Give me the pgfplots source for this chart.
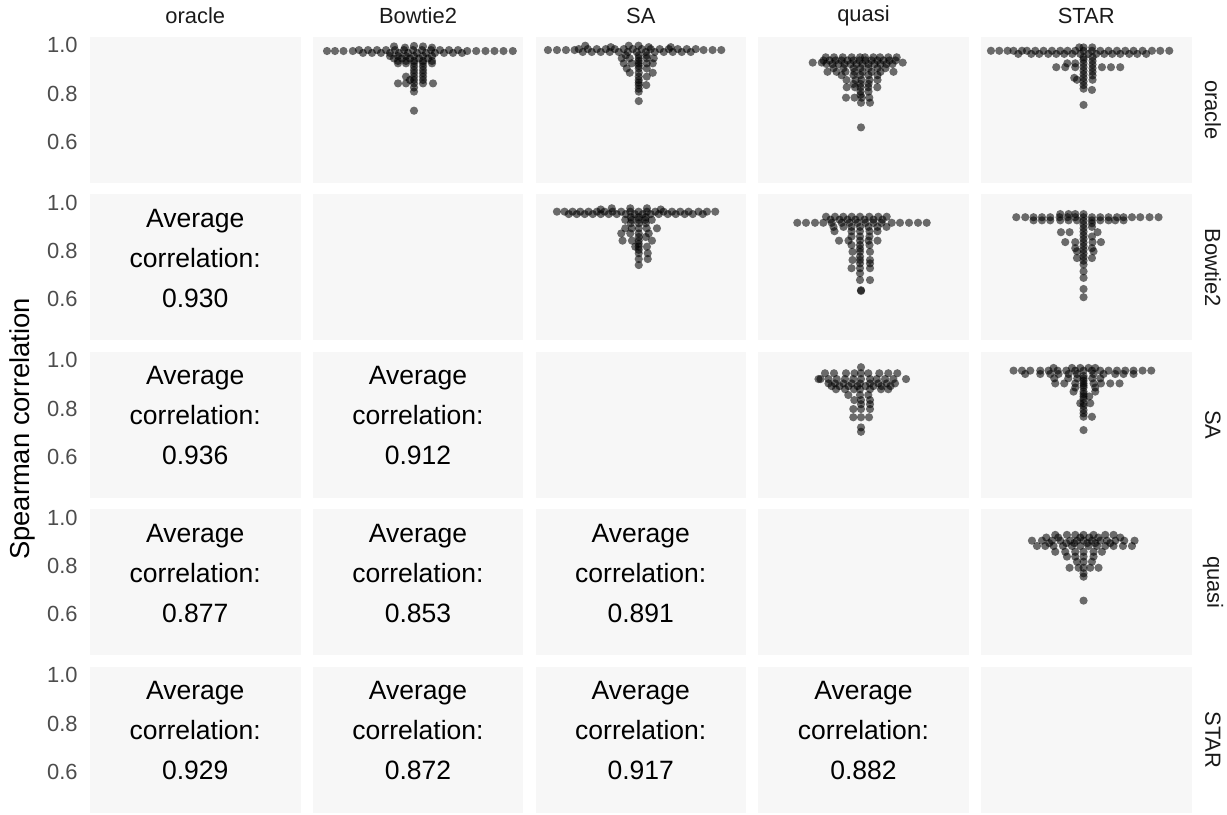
\documentclass[border=0pt]{standalone}
\usepackage{pgfplots}
\pgfplotsset{compat=1.18}
\usepackage{fontspec}
\setmainfont{Liberation Sans}
\definecolor{panelbg}{HTML}{F7F7F7}
\definecolor{tickgray}{HTML}{4D4D4D}
\definecolor{stripgray}{HTML}{1A1A1A}
\pgfplotsset{
 panel/.style={width=105.25bp,height=73bp,scale only axis,
   xmin=-105.25,xmax=105.25,ymin=0.430,ymax=1.034,
   axis background/.style={fill=panelbg},
   axis line style={draw=none},
   xtick=\empty,ytick=\empty,major tick length=0pt,
   anchor=north west},
 leftcol/.style={ytick={0.6,0.8,1.0},yticklabels={0.6,0.8,1.0},
   yticklabel style={font=\fontsize{11}{12}\selectfont,text=tickgray,inner sep=0pt,xshift=-6bp}},
 swarm/.style={only marks,mark=*,mark size=2.05bp,mark options={draw opacity=0,fill=black,fill opacity=0.57}},
}
\newcommand{\avg}[1]{\node[align=center,font=\fontsize{13.3}{20}\selectfont] at (rel axis cs:0.5,0.563) {Average\\correlation:\\#1};}
\begin{document}
\begin{tikzpicture}
\useasboundingbox (0,0) rectangle (613.5bp,407.5bp);
% ---------- row 1 ----------
\begin{axis}[panel,leftcol,at={(45bp,389bp)}]
\end{axis}
\begin{axis}[panel,at={(156.375bp,389bp)}]
\addplot[swarm] coordinates {
(-91,0.976)(-83,0.976)(-74.5,0.976)(-65.2,0.976)(49.2,0.976)(58.2,0.976)(67.5,0.976)(76.5,0.976)(85.5,0.976)(94.8,0.976)
(-59,0.980)(-50,0.980)(-41,0.980)(-32,0.980)(-23,0.980)(-14,0.980)(-5,0.980)(4,0.980)(13,0.980)(22,0.980)(31,0.980)(40,0.980)
(-55,0.968)(-46,0.968)(-37,0.968)(-28,0.968)(-19,0.968)(-10,0.968)(-1,0.968)(8,0.968)(17,0.968)(26,0.968)(35,0.968)(44,0.968)
(-24,0.995)(-4,0.997)(5,0.995)(-13,0.990)(14,0.990)
(-28,0.955)(-20,0.955)(-12,0.955)(-4,0.955)(5,0.955)(14,0.955)
(-24,0.945)(-16,0.945)(-8,0.945)(1,0.945)(10,0.945)
(-20,0.935)(-12,0.935)(-4,0.935)(5,0.935)(14,0.935)
(-20,0.925)(-12,0.925)(-4,0.925)(5,0.925)(14,0.925)
(-4,0.912)(5,0.912)(-4,0.897)(5,0.897)(-4,0.884)(5,0.884)
(-12,0.870)(-4,0.870)(5,0.870)(-8,0.856)(-4,0.856)(5,0.856)
(-20,0.842)(-12,0.842)(-4,0.842)(5,0.842)(15,0.842)
(-4,0.825)(-4,0.808)(-4,0.729)
};
\end{axis}
\begin{axis}[panel,at={(267.75bp,389bp)}]
\addplot[swarm] coordinates {
(-92.8,0.980)(-83.8,0.980)(-74.8,0.980)(-66.2,0.980)(62.8,0.980)(71.8,0.980)(80.5,0.980)
(-62,0.984)(-53,0.984)(-44,0.984)(-35,0.984)(-26,0.984)(-17,0.984)(-8,0.984)(1,0.984)(10,0.984)(19,0.984)(28,0.984)(37,0.984)(46,0.984)(55,0.984)
(-58,0.972)(-49,0.972)(-40,0.972)(-31,0.972)(-22,0.972)(-13,0.972)(-4,0.972)(5,0.972)(14,0.972)(23,0.972)(32,0.972)(41,0.972)(50,0.972)
(-55.5,0.998)(-12,0.998)(-2.2,0.998)(-30,0.992)(8,0.992)(30,0.992)
(-19,0.946)(-11,0.946)(-2,0.946)(6,0.946)(13,0.946)
(-15,0.958)(-2,0.958)(6,0.958)
(-17,0.925)(-9,0.925)(-2,0.925)(6,0.925)(12,0.925)
(-2,0.935)(-14,0.904)(-2,0.904)(6,0.904)(-2,0.915)
(-11,0.886)(-2,0.886)(12,0.886)(-2,0.870)(6,0.870)
(-2,0.856)(-2,0.845)(-2,0.835)(5.5,0.835)(-2,0.820)(-2,0.808)(-2,0.769)
};
\end{axis}
\begin{axis}[panel,at={(379.125bp,389bp)}]
\addplot[swarm] coordinates {
(-37.8,0.950)(-29.5,0.950)(-20.8,0.950)(-11.8,0.950)(-3.5,0.950)(1.5,0.950)(9.8,0.950)(16.5,0.950)(24.8,0.950)(33.2,0.950)
(-50.8,0.928)(-41.8,0.928)(39.2,0.928)
(-40,0.937)(-34,0.937)(-28,0.937)(-22,0.937)(-16,0.937)(-10,0.937)(-4,0.937)(2,0.937)(8,0.937)(14,0.937)(20,0.937)(26,0.937)(32,0.937)
(-37,0.922)(-31,0.922)(-25,0.922)(-19,0.922)(-13,0.922)(-7,0.922)(-1,0.922)(5,0.922)(11,0.922)(17,0.922)(23,0.922)(29,0.922)
(-30,0.905)(-20,0.905)(-10,0.905)(-3,0.905)(5,0.905)(14,0.905)(22,0.905)
(-36,0.890)(-27,0.890)(-18,0.890)(-9,0.890)(-1,0.890)(8,0.890)(17,0.890)(30,0.890)
(-22,0.876)(-10,0.876)(-3,0.876)(5,0.876)(14,0.876)
(-17,0.856)(-8,0.856)(-2,0.856)(6,0.856)(14,0.856)
(-10,0.840)(-3,0.840)(5,0.840)
(-16.8,0.826)(-8.5,0.826)(-3,0.826)(4.8,0.826)(13.8,0.826)
(-3,0.808)(5,0.808)(-3,0.795)
(-17.5,0.783)(-9,0.783)(-1.8,0.783)(5.8,0.783)
(-2.5,0.762)(6.5,0.762)(-2.5,0.660)
};
\end{axis}
\begin{axis}[panel,at={(490.5bp,389bp)}]
\addplot[swarm] coordinates {
(-95.3,0.977)(-87,0.977)(-78.7,0.977)(-72.7,0.977)(-64.3,0.977)(-59.3,0.977)(-51,0.977)(-42.7,0.977)(-34.3,0.977)(-26,0.977)(-18.7,0.977)(-11,0.977)(-2.7,0.977)(5.7,0.977)(14,0.977)(22.3,0.977)(30.7,0.977)(39,0.977)(47.3,0.977)(56.3,0.977)(65.7,0.977)(74,0.977)(83,0.977)
(-68,0.964)(-55,0.964)(-47,0.964)(-38,0.964)(-30,0.964)(-22,0.964)(-14,0.964)(-6,0.964)(2,0.964)(10,0.964)(18,0.964)(26,0.964)(34,0.964)(43,0.964)(51,0.964)(60,0.964)
(-7,0.991)(-2.7,0.991)(6,0.991)
(-2.7,0.95)(-2.7,0.94)(-2.7,0.925)(-2.7,0.91)(-2.7,0.895)(-2.7,0.88)(-2.7,0.865)(-2.7,0.85)(-2.7,0.835)(-2.7,0.82)
(6.3,0.95)(6.3,0.935)(6.3,0.92)(6.3,0.905)(6.3,0.89)(6.3,0.875)
(-30,0.909)(-21,0.909)(-11,0.909)(15.7,0.909)(24.7,0.909)(34,0.909)
(-19,0.925)(-11,0.925)(-9.3,0.857)(6.3,0.857)(-12,0.865)(5.7,0.815)(-2.7,0.753)
};
\end{axis}
% ---------- row 2 ----------
\begin{axis}[panel,leftcol,at={(45bp,310.25bp)}]
\avg{0.930}
\end{axis}
\begin{axis}[panel,at={(156.375bp,310.25bp)}]
\end{axis}
\begin{axis}[panel,at={(267.75bp,310.25bp)}]
\addplot[swarm] coordinates {
(-83.8,0.963)(-76.2,0.963)(-68.2,0.963)(-60.5,0.963)(-52.2,0.963)(-43.8,0.963)(-36.2,0.963)(-28.2,0.963)(-19.5,0.963)(-10.5,0.963)(-2.2,0.963)(6.2,0.963)(14.5,0.963)(22.8,0.963)(31.2,0.963)(39.5,0.963)(47.8,0.963)(57.8,0.963)(66.2,0.963)(74.5,0.963)
(-72,0.953)(-64,0.953)(-56,0.953)(-48,0.953)(-40,0.953)(-32,0.953)(-24,0.953)(-15,0.953)(-6,0.953)(2,0.953)(10,0.953)(18,0.953)(27,0.953)(35,0.953)(44,0.953)(52,0.953)(62,0.953)
(-29,0.977)(-10.5,0.977)(6.2,0.977)(-40,0.972)(20,0.972)
(-15.5,0.929)(-9,0.929)(-2,0.929)(4.5,0.929)(11,0.929)
(-10,0.940)(-2,0.940)(5,0.940)(-10,0.915)(-2,0.915)(5,0.915)
(-15.5,0.894)(-9,0.894)(-2,0.894)(6,0.894)(16.2,0.894)
(-19.5,0.873)(-10.5,0.873)(-2,0.873)(8,0.873)
(-2,0.858)(5,0.858)
(-18.2,0.843)(-8.8,0.843)(-2,0.843)(11.2,0.843)
(-2,0.830)(-5.5,0.818)(-2,0.818)(6.2,0.818)(-2,0.805)
(-2,0.791)(7,0.791)(-2,0.767)(7,0.767)(-2,0.742)
};
\end{axis}
\begin{axis}[panel,at={(379.125bp,310.25bp)}]
\addplot[swarm] coordinates {
(-66.2,0.917)(-57.5,0.917)(-48.5,0.917)(-40.2,0.917)(-31.8,0.917)(-21.8,0.917)(-14,0.917)(-6,0.917)(2,0.917)(10,0.917)(18,0.917)(28.2,0.917)(36.5,0.917)(45.5,0.917)(54.5,0.917)(63.2,0.917)
(-37.5,0.942)(-28.5,0.942)(-20.2,0.942)(-11.8,0.942)(-3.5,0.942)(5.8,0.942)(14.8,0.942)(23.2,0.942)
(-33,0.930)(-24,0.930)(-16,0.930)(-8,0.930)(1,0.930)(10,0.930)(19,0.930)
(-30,0.900)(-20,0.900)(-12,0.900)(-3.5,0.900)(5,0.900)(14,0.900)(23,0.900)
(-29,0.882)(-12,0.882)(-3.5,0.882)(6,0.882)(14,0.882)
(-12,0.860)(-3.5,0.860)(6,0.860)
(-24.5,0.843)(-15,0.843)(-3.5,0.843)(5,0.843)(14,0.843)
(-12,0.825)(-3.5,0.825)(6,0.825)(-3.5,0.810)
(-11,0.797)(-3.5,0.797)(6.5,0.797)(-3.5,0.777)
(-11,0.763)(-3.5,0.763)(6.5,0.763)(-3.5,0.749)(6.5,0.749)
(-12,0.729)(-3.5,0.729)(6.5,0.729)(-3.5,0.708)
(-3.5,0.680)(6.5,0.680)(-2.5,0.638)(-2.5,0.635)
};
\end{axis}
\begin{axis}[panel,at={(490.5bp,310.25bp)}]
\addplot[swarm] coordinates {
(-70,0.940)(-61,0.940)(-52.7,0.940)(-44.3,0.940)(-36,0.940)(-26.7,0.940)(-18.7,0.940)(-11,0.940)(-2.7,0.940)(5.7,0.940)(14,0.940)(22.3,0.940)(30.7,0.940)(37.3,0.940)(45.7,0.940)(54,0.940)(63.3,0.940)(72.3,0.940)
(-52.7,0.927)(-44.3,0.927)(-36,0.927)(-26,0.927)(-17.7,0.927)(-9.3,0.927)(5.7,0.927)(14,0.927)(22.3,0.927)(29,0.927)(37.3,0.927)
(-26,0.953)(-17.7,0.953)(-11,0.953)(-2.7,0.953)
(-2.7,0.925)(-2.7,0.91)(-2.7,0.895)(-2.7,0.88)(-2.7,0.865)(-2.7,0.85)(-2.7,0.835)(-2.7,0.82)(-2.7,0.805)(-2.7,0.79)(-2.7,0.775)(-2.7,0.76)
(5.7,0.915)(5.7,0.9)(5.7,0.86)
(-25.3,0.878)(-16.7,0.878)(11.3,0.878)
(-21,0.837)(-11,0.837)(6.3,0.837)(14.7,0.837)
(-11,0.812)(5.7,0.812)(-9.3,0.799)(7.3,0.799)(-9.3,0.771)(5.7,0.771)
(-2.7,0.744)(-2.7,0.716)(-2.7,0.689)(-2.7,0.643)(-2.7,0.609)
};
\end{axis}
% ---------- row 3 ----------
\begin{axis}[panel,leftcol,at={(45bp,231.5bp)}]
\avg{0.936}
\end{axis}
\begin{axis}[panel,at={(156.375bp,231.5bp)}]
\avg{0.912}
\end{axis}
\begin{axis}[panel,at={(267.75bp,231.5bp)}]
\end{axis}
\begin{axis}[panel,at={(379.125bp,231.5bp)}]
\addplot[swarm] coordinates {
(-2.5,0.971)
(-38.5,0.946)(-29.5,0.946)(-17.5,0.946)(-9,0.946)(-2.5,0.946)(4.8,0.946)(15.8,0.946)(24.8,0.946)(33.8,0.946)
(-45,0.922)(-43,0.922)(-35,0.922)(-26.8,0.922)(-18.5,0.922)(-10.2,0.922)(-2.5,0.922)(6.5,0.922)(13.2,0.922)(21.5,0.922)(29.8,0.922)(42.5,0.922)
(-35,0.904)(-28.5,0.904)(-20,0.904)(-11.8,0.904)(-3.5,0.904)(6.5,0.904)(14.8,0.904)(23.2,0.904)(31.5,0.904)
(-32,0.893)(-24,0.893)(-15,0.893)(-6,0.893)(2,0.893)(10,0.893)(18,0.893)(27,0.893)
(-27.5,0.880)(-18.5,0.880)(-9.5,0.880)(-3.5,0.880)(6.5,0.880)(17.5,0.880)(24.8,0.880)
(-15.2,0.856)(-3.5,0.856)(4.8,0.856)
(-9.2,0.835)(-2.5,0.835)(6.5,0.835)(-2.5,0.818)(6.5,0.818)
(-10.2,0.798)(-2.5,0.798)(6.5,0.798)
(-10.2,0.764)(-2.5,0.764)(5.5,0.764)
(-2.5,0.722)(-2.5,0.704)
};
\end{axis}
\begin{axis}[panel,at={(490.5bp,231.5bp)}]
\addplot[swarm] coordinates {
(-72.7,0.957)(-64.3,0.957)(-56,0.957)(-46,0.957)(-37.7,0.957)(-28.7,0.957)(-20,0.957)(-11,0.957)(-2.7,0.957)(5.7,0.957)(14,0.957)(22.3,0.957)(30.7,0.957)(39,0.957)(47.3,0.957)(56.3,0.957)(65,0.957)
(-61,0.943)(-46,0.943)(-36,0.943)(-27.7,0.943)(-17.7,0.943)(-9.3,0.943)(7.3,0.943)(17.3,0.943)(29,0.943)(37.3,0.943)(47.3,0.943)
(-32.7,0.968)(-14.3,0.968)(-6,0.968)(2.3,0.968)(9,0.968)
(-32,0.925)(-18,0.925)(-9,0.925)(-2.7,0.925)(6,0.925)(14,0.925)
(-31,0.904)(-22,0.904)(-11,0.904)(-2.7,0.904)(7.3,0.904)(14.7,0.904)(24,0.904)(33.3,0.904)
(-11,0.887)(-2.7,0.887)(9,0.887)(-12.7,0.870)(-2.7,0.870)(9,0.870)
(-2.7,0.85)(3,0.85)(-6,0.822)(-2.7,0.822)(4,0.822)
(-2.7,0.935)(-2.7,0.915)(-2.7,0.895)(-2.7,0.86)(-2.7,0.84)(-2.7,0.81)(-2.7,0.78)
(-2.7,0.794)(-2.7,0.766)(5.7,0.766)(-2.7,0.711)
};
\end{axis}
% ---------- row 4 ----------
\begin{axis}[panel,leftcol,at={(45bp,152.75bp)}]
\avg{0.877}
\end{axis}
\begin{axis}[panel,at={(156.375bp,152.75bp)}]
\avg{0.853}
\end{axis}
\begin{axis}[panel,at={(267.75bp,152.75bp)}]
\avg{0.891}
\end{axis}
\begin{axis}[panel,at={(379.125bp,152.75bp)}]
\end{axis}
\begin{axis}[panel,at={(490.5bp,152.75bp)}]
\addplot[swarm] coordinates {
(-31,0.929)(-19.3,0.929)(-11,0.929)(-2.7,0.929)(7.3,0.929)(19,0.929)(27.3,0.929)
(-54.3,0.905)(-44.3,0.905)(-34.3,0.905)(-26,0.905)(-16,0.905)(-9.3,0.905)(-2.7,0.905)(5.7,0.905)(14,0.905)(20.7,0.905)(29,0.905)(38,0.905)(48.3,0.905)
(-49.3,0.883)(-41,0.883)(-32.7,0.883)(-23.3,0.883)(-14.3,0.883)(-6,0.883)(2.3,0.883)(10.7,0.883)(19,0.883)(27.3,0.883)(36.7,0.883)(45.7,0.883)
(-40,0.918)(-28,0.918)(-6,0.918)(3,0.918)(12,0.918)(34,0.918)
(-37,0.895)(-20,0.895)(-12,0.895)(1,0.895)(9,0.895)(24,0.895)
(-31,0.859)(-21,0.859)(-11,0.859)(-2.7,0.859)(7.3,0.859)(15.7,0.859)
(-19.3,0.839)(-11,0.839)(-2.7,0.839)(7.3,0.839)
(-9.3,0.818)(-2.7,0.818)(5.7,0.818)
(-16.7,0.793)(-7.7,0.793)(-2.7,0.793)(4,0.793)(12.3,0.793)
(-2.7,0.770)(-2.7,0.756)(-2.7,0.657)
};
\end{axis}
% ---------- row 5 ----------
\begin{axis}[panel,leftcol,at={(45bp,74bp)}]
\avg{0.929}
\end{axis}
\begin{axis}[panel,at={(156.375bp,74bp)}]
\avg{0.872}
\end{axis}
\begin{axis}[panel,at={(267.75bp,74bp)}]
\avg{0.917}
\end{axis}
\begin{axis}[panel,at={(379.125bp,74bp)}]
\avg{0.882}
\end{axis}
\begin{axis}[panel,at={(490.5bp,74bp)}]
\end{axis}
% ---------- strips ----------
\begin{scope}[every node/.style={font=\fontsize{11}{12}\selectfont,text=stripgray,inner sep=0pt}]
\node at (97.625bp,399.5bp) {oracle};
\node at (209bp,399.5bp) {Bowtie2};
\node at (320.375bp,399.5bp) {SA};
\node at (431.75bp,399.5bp) {quasi};
\node at (543.125bp,399.5bp) {STAR};
\node[rotate=-90] at (606.5bp,352.5bp) {oracle};
\node[rotate=-90] at (606.5bp,273.75bp) {Bowtie2};
\node[rotate=-90] at (606.5bp,195bp) {SA};
\node[rotate=-90] at (606.5bp,116.25bp) {quasi};
\node[rotate=-90] at (606.5bp,37.5bp) {STAR};
\end{scope}
\node[rotate=90,font=\fontsize{13.75}{15}\selectfont,inner sep=0pt] at (11bp,193bp) {Spearman correlation};
\end{tikzpicture}
\end{document}
